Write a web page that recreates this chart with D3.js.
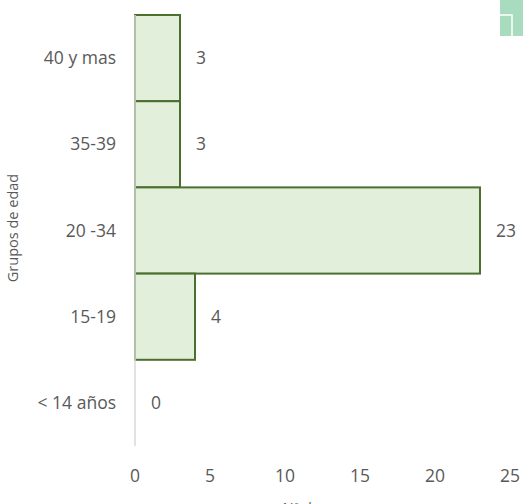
<!DOCTYPE html>
<html>
<head>
<meta charset="utf-8">
<script src="https://cdn.jsdelivr.net/npm/d3@7"></script>
<style>
	body { margin: 0; background: #fff; }
	text { font-family: "Open Sans", "Noto Sans", sans-serif; fill: #595959; }
</style>
</head>
<body>
<div id="chart"></div>
<script>

// age groups, top to bottom
var groups = ["40 y mas", "35-39", "20 -34", "15-19", "< 14 años"];
var counts = [3, 3, 23, 4, 0];
var xTicks = [0, 5, 10, 15, 20, 25];

var width = 523;
var height = 504;

var svg = d3.select("div#chart")
	.append("svg")
	.attr("width", width)
	.attr("height", height);

var x = d3.scaleLinear()
	.domain([0, 25])
	.range([135, 510]);

var y = d3.scaleBand()
	.domain(groups)
	.range([15, 446])
	.padding(0);

// bars
svg.selectAll("rect.bar")
	.data(groups)
	.enter()
	.append("rect")
	.attr("class", "bar")
	.attr("x", x(0))
	.attr("y", function(d) { return y(d); })
	.attr("width", function(d, i) { return x(counts[i]) - x(0); })
	.attr("height", y.bandwidth())
	.attr("fill", "#e2efda")
	.attr("stroke", function(d, i) { return counts[i] > 0 ? "#4a6f2e" : "none"; })
	.attr("stroke-width", 2);

// vertical axis line
svg.append("line")
	.attr("x1", x(0))
	.attr("x2", x(0))
	.attr("y1", 15)
	.attr("y2", 446)
	.attr("stroke", "#d9d9d9")
	.attr("stroke-width", 1.5);

// category labels
svg.selectAll("text.cat")
	.data(groups)
	.enter()
	.append("text")
	.attr("class", "cat")
	.attr("x", 116)
	.attr("y", function(d) { return y(d) + y.bandwidth() / 2; })
	.attr("dy", "0.35em")
	.attr("text-anchor", "end")
	.style("font-size", "17.5px")
	.text(function(d) { return d; });

// value labels
svg.selectAll("text.val")
	.data(groups)
	.enter()
	.append("text")
	.attr("class", "val")
	.attr("x", function(d, i) { return x(counts[i]) + 16; })
	.attr("y", function(d) { return y(d) + y.bandwidth() / 2; })
	.attr("dy", "0.35em")
	.style("font-size", "17.5px")
	.text(function(d, i) { return counts[i]; });

// x tick labels
svg.selectAll("text.tick")
	.data(xTicks)
	.enter()
	.append("text")
	.attr("class", "tick")
	.attr("x", function(d) { return x(d); })
	.attr("y", 476)
	.attr("dy", "0.35em")
	.attr("text-anchor", "middle")
	.style("font-size", "17.5px")
	.text(function(d) { return d; });

// axis titles
svg.append("text")
	.attr("transform", "translate(13,228) rotate(-90)")
	.attr("text-anchor", "middle")
	.attr("dy", "0.35em")
	.style("font-size", "14.5px")
	.text("Grupos de edad");

svg.append("text")
	.attr("x", 322)
	.attr("y", 513)
	.attr("text-anchor", "middle")
	.style("font-size", "14.5px")
	.text("Nº de casos");

// corner decoration
svg.append("rect")
	.attr("x", 500)
	.attr("y", 0)
	.attr("width", 23)
	.attr("height", 36)
	.attr("fill", "#a9dcbe");

svg.append("path")
	.attr("d", "M500,15H512V36")
	.attr("fill", "none")
	.attr("stroke", "#ffffff")
	.attr("stroke-width", 1.5);

</script>
</body>
</html>
